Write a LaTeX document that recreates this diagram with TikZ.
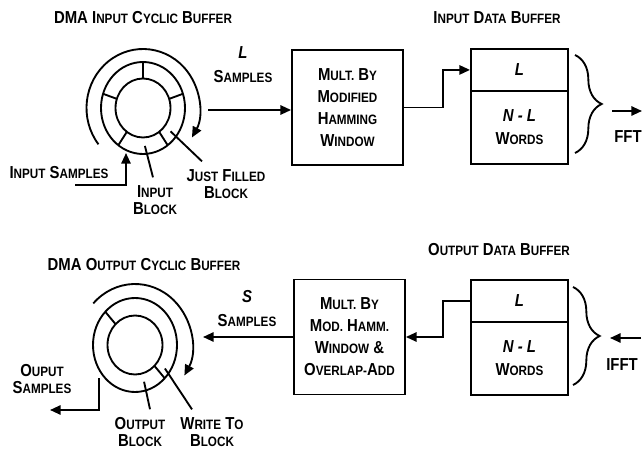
\documentclass[tikz,border=0pt]{standalone}
\usepackage{fontspec}
\setmainfont{Liberation Sans}[FakeStretch=0.86]
\usetikzlibrary{arrows.meta,decorations.pathreplacing}
\newcommand\Sm[2]{#1{\fontsize{10.2}{13}\selectfont #2}}

\begin{document}
\begin{tikzpicture}[x=0.75pt,y=0.75pt,line width=1.4pt,
  every node/.style={font=\fontsize{13}{13}\selectfont\bfseries, align=center, inner sep=0pt},
  arr/.style={-{Triangle[length=8pt,width=7pt]}},
  cell/.style={draw, minimum width=72.75pt, anchor=north west, font=\fontsize{13}{17}\selectfont\bfseries},
  wbox/.style={draw, minimum width=83.25pt, minimum height=86.25pt, font=\fontsize{13}{16.5}\selectfont\bfseries},
  brc/.style={decorate, decoration={brace, amplitude=20pt}}
]
\useasboundingbox (0,0) rectangle (642,457);

% titles
\node (t1) at (143,439) {DMA \Sm{I}{NPUT} \Sm{C}{YCLIC} \Sm{B}{UFFER}};
\node (t2) at (497,439) {\Sm{I}{NPUT} \Sm{D}{ATA} \Sm{B}{UFFER}};
\node (t3) at (144,192) {DMA \Sm{O}{UTPUT} \Sm{C}{YCLIC} \Sm{B}{UFFER}};
\node (t4) at (499,207) {\Sm{O}{UTPUT} \Sm{D}{ATA} \Sm{B}{UFFER}};

% input cyclic buffer
\coordinate (inring) at (143,349);
\draw (inring) ellipse [x radius=42, y radius=46];
\draw (inring) ellipse [x radius=27.5, y radius=29.5];
\foreach \a in {18,90,162,234,306}
  \draw ([shift={(\a:27.5 and 29.5)}]inring) -- ([shift={(\a:42 and 46)}]inring);
\draw[arr] ([shift={(218:56.5 and 59)}]inring) arc [start angle=218, end angle=-30, x radius=56.5, y radius=59];

\node (insmp) at (59,284) {\Sm{I}{NPUT} \Sm{S}{AMPLES}};
\node (inblk) at (155,257) {\Sm{I}{NPUT}\\\Sm{B}{LOCK}};
\node (jfblk) at (226,273) {\Sm{J}{UST} \Sm{F}{ILLED}\\\Sm{B}{LOCK}};
\coordinate (insmp0) at (75,272);
\coordinate (intip) at (126,304);
\draw[arr] (insmp0) -| (intip);
\draw ([shift={(-87:36 and 38)}]inring) -- ([shift={(-2,7)}]inblk.north);
\draw ([shift={(-38:35 and 38)}]inring) -- ([shift={(-24,7)}]jfblk.north);

\node (lsmp) at (243,392) {\textit{L}\\[5pt]\Sm{S}{AMPLES}};
\coordinate (lin) at (208,347);

% window box and input data buffer
\node[wbox] (mult1) at (347.5,349.5) {\Sm{M}{ULT.} \Sm{B}{Y}\\\Sm{M}{ODIFIED}\\\Sm{H}{AMMING}\\\Sm{W}{INDOW}};
\node[cell, minimum height=31.5pt] (ibufL) at (470,409) {\textit{L}};
\node[cell, minimum height=54.75pt] (ibufN) at (470,367) {\textit{N - L}\\\Sm{W}{ORDS}};
\draw[arr] (lin) -- (lin -| mult1.west);
\draw[arr] (mult1.east) -- ++(39,0) |- (ibufL.west);
\draw[brc] (575,402) -- (575,304);
\coordinate (fft0) at (612,346);
\coordinate (fft1) at (642,346);
\draw[arr] (fft0) -- (fft1);
\node (fft) at (628,320) {FFT};

% output cyclic buffer
\coordinate (outring) at (135,112);
\draw (outring) ellipse [x radius=42, y radius=47];
\draw (outring) ellipse [x radius=27.5, y radius=29.5];
\foreach \a in {135,-45}
  \draw ([shift={(\a:27.5 and 29.5)}]outring) -- ([shift={(\a:42 and 47)}]outring);
\draw[arr] ([shift={(137:57 and 61)}]outring) arc [start angle=137, end angle=-30, x radius=57, y radius=61];

\node (osmp) at (42,78) {\Sm{O}{UPUT}\\\Sm{S}{AMPLES}};
\node (outblk) at (140,25) {\Sm{O}{UTPUT}\\\Sm{B}{LOCK}};
\node (wrtblk) at (212,25) {\Sm{W}{RITE} \Sm{T}{O}\\\Sm{B}{LOCK}};
\coordinate (osmp0) at (99,79);
\coordinate (osmp1) at (50,47);
\draw[arr] (osmp0) |- (osmp1);
\draw ([shift={(-75:35 and 38)}]outring) -- ([shift={(10,7)}]outblk.north);
\draw ([shift={(-36:37 and 40)}]outring) -- ([shift={(-20,7)}]wrtblk.north);

\node (ssmp) at (247,148) {\textit{S}\\[5pt]\Sm{S}{AMPLES}};
\coordinate (sout) at (203,120);

% overlap-add box and output data buffer
\node[wbox] (mult2) at (349.5,120) {\Sm{M}{ULT.} \Sm{B}{Y}\\\Sm{M}{OD.} \Sm{H}{AMM.}\\\Sm{W}{INDOW} \&\\\Sm{O}{VERLAP-}\Sm{A}{DD}};
\node[cell, minimum height=31.5pt] (obufL) at (470,178) {\textit{L}};
\node[cell, minimum height=54.75pt] (obufN) at (470,136) {\textit{N - L}\\\Sm{W}{ORDS}};
\draw[arr] (mult2.west) -- (sout);
\draw[arr] (obufL.west) -- ++(-27,0) |- (mult2.east);
\draw[brc] (573,170) -- (573,72);
\coordinate (ifft0) at (641,119);
\coordinate (ifft1) at (610,119);
\draw[arr] (ifft0) -- (ifft1);
\node (ifft) at (622,92) {IFFT};

\end{tikzpicture}
\end{document}
